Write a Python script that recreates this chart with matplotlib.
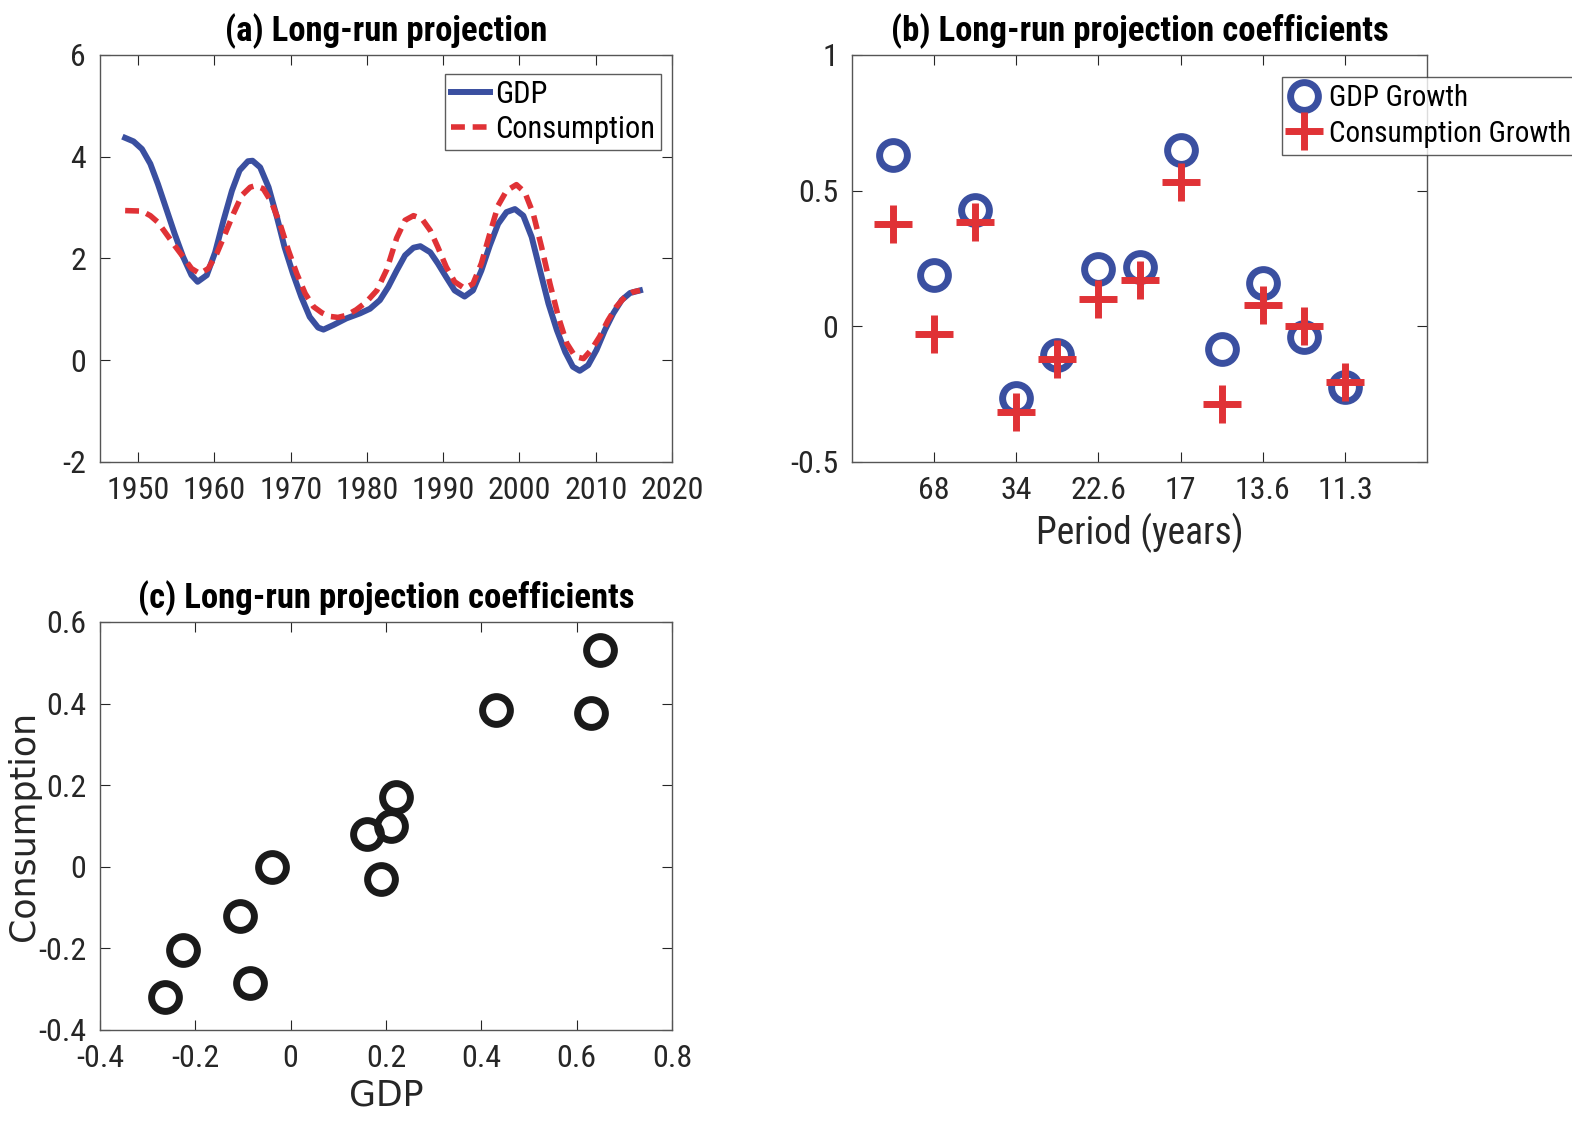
import numpy as np
import matplotlib
matplotlib.use("Agg")
import matplotlib.pyplot as plt

plt.rcParams['font.family'] = ['Roboto Condensed', 'DejaVu Sans']
plt.rcParams['axes.unicode_minus'] = False

# panel (a) long-run projection
gdp_years = [1948.3, 1949.4, 1950.5, 1951.6, 1952.6, 1953.7, 1954.8, 1955.9, 1957.0, 1957.8,
             1959.0, 1960.1, 1961.2, 1962.3, 1963.3, 1964.4, 1965.0, 1966.0, 1967.1, 1968.2,
             1969.2, 1970.3, 1971.4, 1972.5, 1973.6, 1974.3, 1975.6, 1977.3, 1979.1, 1980.4,
             1981.7, 1982.8, 1983.9, 1985.0, 1986.1, 1987.0, 1988.3, 1989.3, 1990.4, 1991.5,
             1992.8, 1993.9, 1995.0, 1996.1, 1997.2, 1998.3, 1999.4, 2000.5, 2001.6, 2002.7,
             2003.8, 2004.9, 2006.0, 2007.0, 2007.9, 2009.0, 2010.1, 2011.2, 2012.3, 2013.4,
             2014.5, 2015.8]
gdp = [4.37, 4.30, 4.15, 3.86, 3.46, 2.97, 2.48, 2.03, 1.67, 1.54,
       1.67, 2.12, 2.75, 3.33, 3.73, 3.91, 3.92, 3.79, 3.40, 2.81,
       2.22, 1.70, 1.24, 0.85, 0.64, 0.60, 0.69, 0.82, 0.92, 1.01,
       1.18, 1.44, 1.76, 2.06, 2.21, 2.24, 2.12, 1.90, 1.63, 1.37,
       1.25, 1.37, 1.76, 2.25, 2.68, 2.91, 2.97, 2.84, 2.42, 1.76,
       1.11, 0.59, 0.16, -0.13, -0.21, -0.10, 0.20, 0.59, 0.92, 1.18,
       1.32, 1.37]
cons_years = [1948.3, 1950.5, 1951.6, 1952.6, 1953.7, 1954.8, 1955.9, 1957.0, 1958.1, 1959.2,
              1960.3, 1961.4, 1962.5, 1963.6, 1964.7, 1965.4, 1966.4, 1967.5, 1968.6, 1969.7,
              1970.8, 1971.9, 1973.0, 1974.1, 1975.1, 1976.2, 1977.3, 1978.6, 1979.9, 1981.3,
              1982.6, 1983.9, 1985.0, 1986.1, 1987.2, 1988.3, 1989.3, 1990.4, 1991.5, 1992.8,
              1993.9, 1995.0, 1996.1, 1997.2, 1998.3, 1999.6, 2000.7, 2001.8, 2002.9, 2004.0,
              2005.1, 2006.2, 2007.3, 2008.4, 2009.4, 2010.5, 2011.6, 2012.7, 2013.8, 2014.9,
              2015.8]
cons = [2.94, 2.93, 2.84, 2.71, 2.48, 2.25, 2.03, 1.80, 1.70, 1.80,
        2.09, 2.48, 2.88, 3.24, 3.40, 3.43, 3.37, 3.10, 2.68, 2.16,
        1.70, 1.31, 1.05, 0.93, 0.86, 0.84, 0.88, 0.99, 1.14, 1.37,
        1.78, 2.40, 2.75, 2.84, 2.78, 2.55, 2.22, 1.83, 1.54, 1.41,
        1.50, 1.90, 2.48, 3.04, 3.33, 3.45, 3.30, 2.88, 2.22, 1.50,
        0.85, 0.33, 0.07, 0.03, 0.20, 0.46, 0.78, 1.05, 1.24, 1.34,
        1.37]

# panels (b) and (c) coefficients
k = np.arange(1, 13)
gdp_coef = [0.63, 0.19, 0.43, -0.263, -0.107, 0.21, 0.22, 0.648, -0.085, 0.16, -0.04, -0.225]
cons_coef = [0.378, -0.03, 0.385, -0.318, -0.12, 0.10, 0.17, 0.53, -0.285, 0.08, 0.0, -0.205]
period_ticks = [2, 4, 6, 8, 10, 12]
period_labels = ['68', '34', '22.6', '17', '13.6', '11.3']

blue = '#3a4fa0'
red = '#e03236'
tc = '#262626'
fs = 23

fig = plt.figure(figsize=(15.72, 11.21), dpi=100)
axa = fig.add_axes([0.0636, 0.588, 0.3639, 0.363])
axb = fig.add_axes([0.542, 0.588, 0.3658, 0.363])
axc = fig.add_axes([0.0636, 0.0812, 0.3639, 0.364])

for ax in (axa, axb, axc):
    ax.tick_params(direction='in', top=True, right=True, labelsize=fs, colors=tc,
                   length=7, width=0.8, pad=10)
    for s in ax.spines.values():
        s.set_color('#555555')
        s.set_linewidth(1.0)

# (a)
axa.plot(gdp_years, gdp, color=blue, lw=4.3, label='GDP')
axa.plot(cons_years, cons, color=red, lw=4, ls=(0, (2.5, 1.4)), label='Consumption')
axa.set_xlim(1945, 2020)
axa.set_ylim(-2, 6)
axa.set_xticks(range(1950, 2021, 10))
axa.set_yticks([-2, 0, 2, 4, 6])
axa.set_title('(a) Long-run projection', fontsize=25, fontweight='bold', pad=10)
axa.legend(loc='upper right', bbox_to_anchor=(0.981, 0.954), fontsize=22, frameon=True,
           fancybox=False, edgecolor='#333333', handlelength=1.3, handletextpad=0.15,
           borderpad=0.2, labelspacing=0.2, borderaxespad=0)

# (b)
axb.plot(k, gdp_coef, ls='none', marker='o', ms=20, mfc='none', mec=blue, mew=5,
         label='GDP Growth')
axb.plot(k, cons_coef, ls='none', marker='+', ms=28, mec=red, mew=5,
         label='Consumption Growth')
axb.set_xlim(0, 14)
axb.set_ylim(-0.5, 1)
axb.set_xticks(period_ticks)
axb.set_xticklabels(period_labels)
axb.set_yticks([-0.5, 0, 0.5, 1])
axb.set_yticklabels(['-0.5', '0', '0.5', '1'])
axb.set_xlabel('Period (years)', fontsize=27, color=tc, labelpad=6)
axb.set_title('(b) Long-run projection coefficients', fontsize=25, fontweight='bold', pad=10)
axb.legend(loc='upper left', bbox_to_anchor=(0.8155, 0.9313), bbox_transform=fig.transFigure,
           fontsize=21, frameon=True, fancybox=False, edgecolor='#333333',
           handlelength=1.0, handletextpad=0.35, borderpad=0.25, labelspacing=0.25,
           borderaxespad=0)

# (c)
axc.plot(gdp_coef, cons_coef, ls='none', marker='o', ms=20, mfc='none', mec='#1a1a1a', mew=5)
axc.set_xlim(-0.4, 0.8)
axc.set_ylim(-0.4, 0.6)
axc.set_xticks([-0.4, -0.2, 0, 0.2, 0.4, 0.6, 0.8])
axc.set_xticklabels(['-0.4', '-0.2', '0', '0.2', '0.4', '0.6', '0.8'])
axc.set_yticks([-0.4, -0.2, 0, 0.2, 0.4, 0.6])
axc.set_yticklabels(['-0.4', '-0.2', '0', '0.2', '0.4', '0.6'])
axc.set_xlabel('GDP', fontsize=25, color=tc, family='DejaVu Sans', labelpad=4)
axc.set_ylabel('Consumption', fontsize=25, color=tc, family='DejaVu Sans')
axc.yaxis.set_label_coords(-0.103, 0.5)
axc.set_title('(c) Long-run projection coefficients', fontsize=25, fontweight='bold', pad=10)

fig.savefig('out.png', dpi=100)
